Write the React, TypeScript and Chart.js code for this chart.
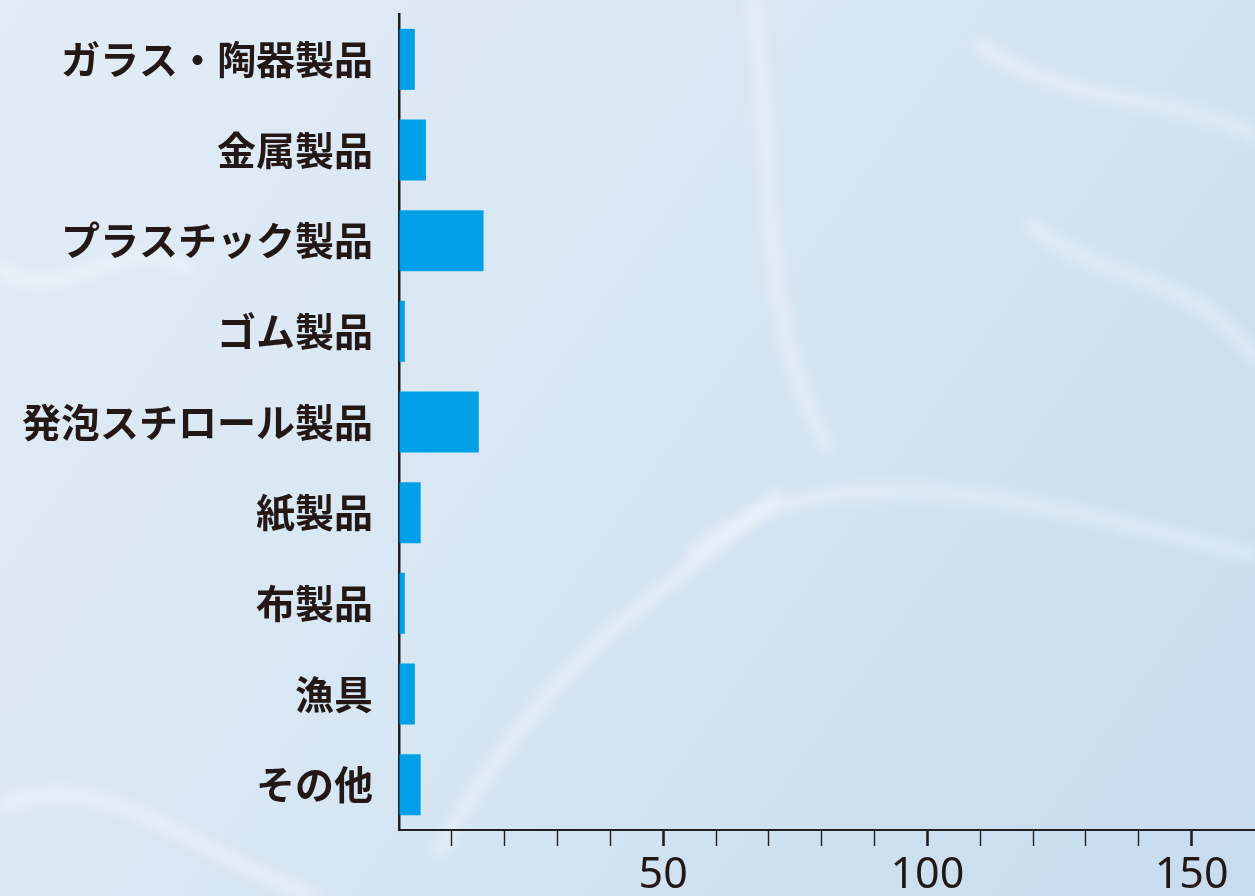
import React, { useEffect, useRef } from "react";
import { Chart, registerables } from "chart.js";

Chart.register(...registerables);

const categories = [
  "ガラス・陶器製品",
  "金属製品",
  "プラスチック製品",
  "ゴム製品",
  "発泡スチロール製品",
  "紙製品",
  "布製品",
  "漁具",
  "その他",
];
const values = [3.0, 5.1, 16.0, 1.1, 15.1, 4.1, 1.1, 3.0, 4.1];
const labeledTicks = [50, 100, 150];
const lastTickMark = 150;
const axisMax = 162;
const tickStep = 10;

const backgroundPlugin = {
  id: "waterBackground",
  beforeDraw(chart: any) {
    const { ctx, width, height } = chart;
    ctx.save();
    const g = ctx.createLinearGradient(0, 0, width, height);
    g.addColorStop(0, "#e2ecf5");
    g.addColorStop(0.5, "#d6e6f3");
    g.addColorStop(1, "#c6dcef");
    ctx.fillStyle = g;
    ctx.fillRect(0, 0, width, height);
    ctx.filter = "blur(7px)";
    ctx.strokeStyle = "rgba(255,255,255,0.5)";
    ctx.lineCap = "round";
    const curves: number[][] = [
      [0.55, 0.62, 0.65, 0.5, 0.8, 0.55, 1.0, 0.62],
      [0.35, 0.95, 0.45, 0.7, 0.55, 0.65, 0.62, 0.55],
      [0.78, 0.05, 0.85, 0.12, 0.92, 0.1, 1.0, 0.15],
      [0.0, 0.3, 0.05, 0.35, 0.1, 0.25, 0.15, 0.3],
      [0.6, 0.0, 0.62, 0.2, 0.6, 0.35, 0.66, 0.5],
      [0.0, 0.9, 0.08, 0.85, 0.15, 0.95, 0.25, 1.0],
      [0.82, 0.25, 0.88, 0.32, 0.95, 0.3, 1.0, 0.4],
    ];
    ctx.lineWidth = 10;
    for (const c of curves) {
      ctx.beginPath();
      ctx.moveTo(c[0] * width, c[1] * height);
      ctx.bezierCurveTo(c[2] * width, c[3] * height, c[4] * width, c[5] * height, c[6] * width, c[7] * height);
      ctx.stroke();
    }
    ctx.restore();
  },
};

export default function App() {
  const ref = useRef<HTMLCanvasElement | null>(null);
  useEffect(() => {
    document.body.style.margin = "0";
    if (!ref.current) return;
    const chart = new Chart(ref.current, {
      type: "bar",
      data: {
        labels: categories,
        datasets: [
          {
            data: values,
            backgroundColor: "#00a0e9",
            borderWidth: 0,
            categoryPercentage: 1,
            barPercentage: 0.673,
          },
        ],
      },
      options: {
        indexAxis: "y",
        animation: false,
        responsive: true,
        maintainAspectRatio: false,
        layout: { padding: { top: 14, left: 0, right: 0, bottom: 0 } },
        plugins: { legend: { display: false }, tooltip: { enabled: false } },
        scales: {
          x: {
            type: "linear",
            min: 0,
            max: axisMax,
            afterFit: (s: any) => {
              s.height = 66;
              s.paddingLeft = 0;
              s.paddingRight = 0;
            },
            border: { display: true, color: "#231f20", width: 2 },
            grid: {
              display: true,
              drawOnChartArea: false,
              drawTicks: true,
              tickLength: 16,
              tickColor: (ctx: any) =>
                ctx.tick && (ctx.tick.value === 0 || ctx.tick.value > lastTickMark) ? "rgba(0,0,0,0)" : "#231f20",
              tickWidth: (ctx: any) => (ctx.tick && labeledTicks.includes(ctx.tick.value) ? 2.6 : 1.4),
            },
            ticks: {
              stepSize: tickStep,
              includeBounds: false,
              autoSkip: false,
              maxRotation: 0,
              padding: 4,
              color: "#231815",
              font: { family: "'Noto Sans', sans-serif", size: 43, weight: 400 },
              callback: (v: any) => (labeledTicks.includes(Number(v)) ? String(v) : ""),
            },
          },
          y: {
            afterFit: (s: any) => {
              s.width = 399;
              s.paddingTop = 0;
              s.paddingBottom = 0;
            },
            border: { display: true, color: "#231f20", width: 2.5 },
            grid: { display: false, drawTicks: false },
            ticks: {
              padding: 26,
              color: "#231815",
              font: { family: "'Noto Sans CJK JP', sans-serif", size: 39, weight: 600 },
            },
          },
        },
      },
      plugins: [backgroundPlugin],
    } as any);
    return () => chart.destroy();
  }, []);
  return (
    <div style={{ position: "absolute", left: 0, top: 0, width: 1255, height: 896 }}>
      <canvas ref={ref} />
    </div>
  );
}
